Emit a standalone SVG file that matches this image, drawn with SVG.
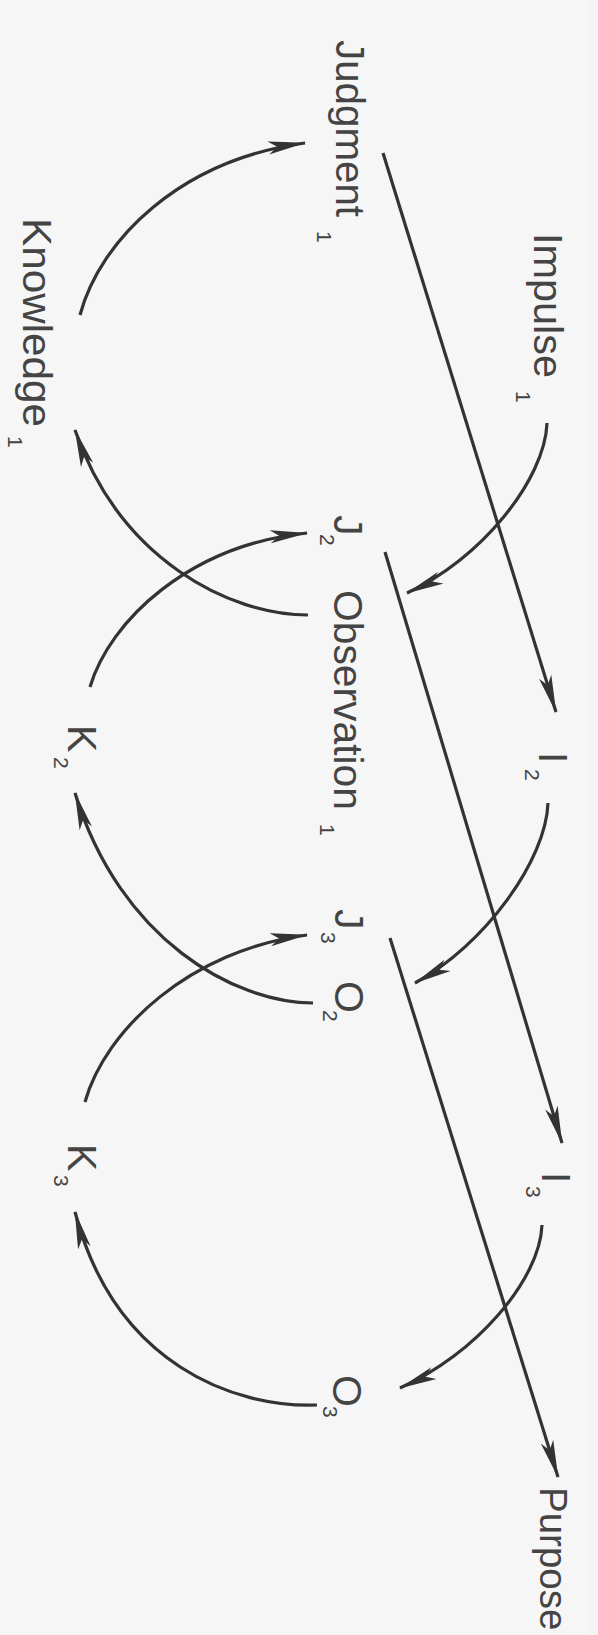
<svg xmlns="http://www.w3.org/2000/svg" width="598" height="1635" viewBox="0 0 598 1635">
<style>
.t{font-family:"Liberation Sans",Arial,sans-serif;font-size:41px;fill:#444}
.s{font-family:"Liberation Sans",Arial,sans-serif;font-size:21px;fill:#444}
.c{fill:none;stroke:#333;stroke-width:3.2;marker-end:url(#ah)}
</style>
<defs>
<marker id="ah" viewBox="0 0 38 14" refX="37" refY="7" markerWidth="38" markerHeight="14" markerUnits="userSpaceOnUse" orient="auto">
<path d="M0,0.5 L38,7 L0,13.5 L9,7 Z" fill="#333"/>
</marker>
</defs>
<rect width="598" height="1635" fill="#f6f6f6"/>
<rect x="589" y="0" width="9" height="1635" fill="#f8f1f6"/>

<g id="connectors">
<path class="c" d="M383,153 L556,712"/>
<path class="c" d="M385,552 L562,1143"/>
<path class="c" d="M390,938 L558,1477"/>
<path class="c" d="M547,423 C545,480 480,560 407,593"/>
<path class="c" d="M548,803 C546,860 485,945 415,983"/>
<path class="c" d="M542,1225 C540,1280 475,1355 400,1388"/>
<path class="c" d="M308,615 C230,615 120,560 75,430"/>
<path class="c" d="M80,315 C100,240 180,160 305,143"/>
<path class="c" d="M90,687 C110,620 190,545 307,533"/>
<path class="c" d="M313,1003 C235,1003 120,940 75,793"/>
<path class="c" d="M85,1102 C105,1030 190,950 307,935"/>
<path class="c" d="M317,1405 C235,1408 115,1365 75,1212"/>
</g>

<g id="judgment1">
<text class="t" transform="translate(336,40) rotate(90)" textLength="177" lengthAdjust="spacingAndGlyphs">Judgment</text>
<text class="s" transform="translate(317,231) rotate(90)">1</text>
</g>
<g id="impulse1">
<text class="t" transform="translate(534,233) rotate(90)" textLength="145" lengthAdjust="spacingAndGlyphs">Impulse</text>
<text class="s" transform="translate(516,391) rotate(90)">1</text>
</g>
<g id="knowledge1">
<text class="t" transform="translate(23,218) rotate(90)" textLength="209" lengthAdjust="spacingAndGlyphs">Knowledge</text>
<text class="s" transform="translate(8,436) rotate(90)">1</text>
</g>
<g id="j2">
<text class="t" transform="translate(334,515) rotate(90)">J</text>
<text class="s" transform="translate(320,534) rotate(90)">2</text>
</g>
<g id="observation1">
<text class="t" transform="translate(334,590) rotate(90)" textLength="220" lengthAdjust="spacingAndGlyphs">Observation</text>
<text class="s" transform="translate(320,824) rotate(90)">1</text>
</g>
<g id="i2">
<text class="t" transform="translate(539,752) rotate(90)">I</text>
<text class="s" transform="translate(525,769) rotate(90)">2</text>
</g>
<g id="k2">
<text class="t" transform="translate(68,725) rotate(90)">K</text>
<text class="s" transform="translate(54,757) rotate(90)">2</text>
</g>
<g id="j3">
<text class="t" transform="translate(335,909) rotate(90)">J</text>
<text class="s" transform="translate(321,932) rotate(90)">3</text>
</g>
<g id="o2">
<text class="t" transform="translate(335,981) rotate(90)">O</text>
<text class="s" transform="translate(323,1010) rotate(90)">2</text>
</g>
<g id="i3">
<text class="t" transform="translate(542,1172) rotate(90)">I</text>
<text class="s" transform="translate(526,1186) rotate(90)">3</text>
</g>
<g id="k3">
<text class="t" transform="translate(68,1144) rotate(90)">K</text>
<text class="s" transform="translate(54,1175) rotate(90)">3</text>
</g>
<g id="o3">
<text class="t" transform="translate(333,1375) rotate(90)">O</text>
<text class="s" transform="translate(323,1406) rotate(90)">3</text>
</g>
<g id="purpose">
<text class="t" style="font-size:38.5px" transform="translate(540,1487) rotate(90)">Purpose</text>
</g>
</svg>
